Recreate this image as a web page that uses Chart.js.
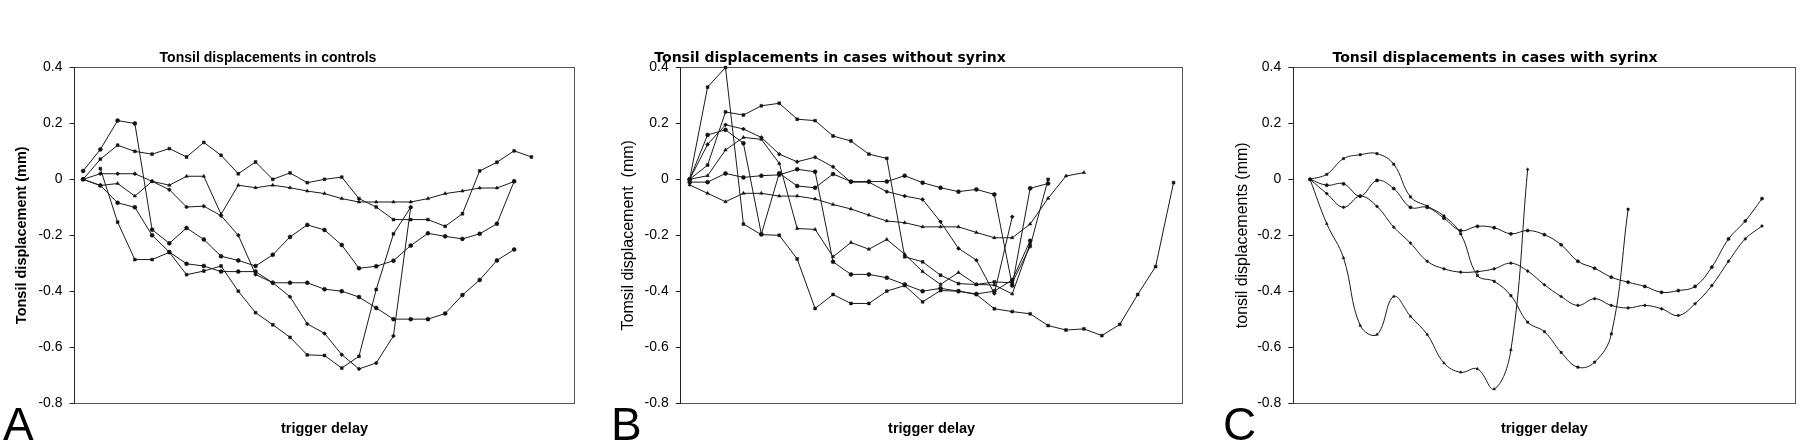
<!DOCTYPE html>
<html><head><meta charset="utf-8">
<script src="https://cdn.jsdelivr.net/npm/chart.js@4.4.1/dist/chart.umd.min.js"></script>
<style>
html,body{margin:0;padding:0;background:#fff;}
#wrap{position:relative;width:1800px;height:445px;overflow:hidden;background:#fff;}
canvas{position:absolute;top:0;}
.lbl{position:absolute;font-family:'Liberation Sans',Arial,sans-serif;font-size:46px;line-height:1;color:#000;}
</style></head><body>
<div id="wrap">
<canvas id="cA"></canvas><canvas id="cB"></canvas><canvas id="cC"></canvas>
<div class="lbl" style="left:3px;top:401px">A</div>
<div class="lbl" style="left:611px;top:401px">B</div>
<div class="lbl" style="left:1223px;top:401px">C</div>
</div>
<script>
// ---------- data ----------
const yTickValues = [-0.8, -0.6, -0.4, -0.2, 0, 0.2, 0.4];
const xAxisLabel = 'trigger delay';

// Panel A : controls (29 trigger-delay categories)
const ctrlStart = [0, 0, 0, 0, 0, 1];
const ctrl1 = [0, 0.072, 0.122, 0.100, 0.090, 0.110, 0.080, 0.132, 0.086, 0.020, 0.062, 0.0, 0.023, -0.012, 0.0, 0.008, -0.069, -0.099, -0.144, -0.144, -0.144, -0.168, -0.123, 0.030, 0.061, 0.102, 0.080];
const ctrl2 = [0.03, 0.107, 0.21, 0.20, -0.18, -0.229, -0.174, -0.215, -0.275, -0.29, -0.31, -0.27, -0.206, -0.163, -0.181, -0.235, -0.318, -0.311, -0.291, -0.237, -0.193, -0.204, -0.213, -0.195, -0.159, -0.007];
const ctrl3 = [0, 0.02, 0.02, 0.02, -0.007, -0.037, -0.099, -0.096, -0.13, -0.2, -0.34, -0.37, -0.42, -0.517, -0.551, -0.627, -0.678, -0.657, -0.56, -0.1];
const ctrl4 = [0, -0.022, -0.015, -0.06, -0.007, -0.021, 0.011, 0.011, -0.125, -0.021, -0.03, -0.021, -0.03, -0.042, -0.051, -0.069, -0.081, -0.081, -0.081, -0.081, -0.069, -0.051, -0.042, -0.031, -0.031, -0.008];
const ctrl5 = [0, -0.022, -0.084, -0.1, -0.2, -0.26, -0.302, -0.31, -0.33, -0.33, -0.33, -0.37, -0.37, -0.37, -0.393, -0.40, -0.421, -0.46, -0.5, -0.5, -0.5, -0.48, -0.414, -0.36, -0.29, -0.251];
const ctrl6 = [0.038, -0.153, -0.287, -0.287, -0.261, -0.341, -0.328, -0.31, -0.4, -0.477, -0.52, -0.565, -0.628, -0.63, -0.675, -0.633, -0.394, -0.195, -0.1];

// Panel B : cases without syrinx (28 categories)
const nosyrStart = [0, 0, 0, 0, 0, 0, 0];
const nosyr1 = [0, 0.051, 0.241, 0.230, 0.263, 0.272, 0.215, 0.210, 0.155, 0.137, 0.09, 0.075, -0.277, -0.295, -0.343, -0.373, -0.376, -0.367, -0.37, -0.24, 0.0];
const nosyr2 = [0, 0.159, 0.177, 0.129, -0.196, 0.022, -0.024, -0.03, 0.019, -0.008, -0.008, -0.008, 0.013, -0.012, -0.03, -0.044, -0.036, -0.054, -0.38, -0.032, -0.015];
const nosyr3 = [0, 0.125, 0.195, 0.18, 0.15, 0.09, 0.063, 0.079, 0.045, -0.01, -0.01, -0.044, -0.06, -0.072, -0.152, -0.247, -0.289, -0.408, -0.134];
const nosyr4 = [0, 0.013, 0.105, 0.15, 0.143, 0.057, -0.176, -0.179, -0.277, -0.226, -0.25, -0.215, -0.268, -0.33, -0.376, -0.333, -0.376, -0.378, -0.41, -0.23];
const nosyr5 = [-0.01, -0.01, 0.021, 0.007, 0.013, 0.016, 0.036, 0.027, -0.295, -0.34, -0.34, -0.352, -0.376, -0.40, -0.39, -0.40, -0.41, -0.40, -0.36, -0.22];
const nosyr6 = [0, 0.33, 0.40, -0.16, -0.198, -0.2, -0.285, -0.462, -0.412, -0.444, -0.444, -0.40, -0.38, -0.438, -0.398, -0.40, -0.412, -0.463, -0.473, -0.481, -0.523, -0.539, -0.535, -0.559, -0.519, -0.412, -0.312, -0.012];
const nosyr7 = [-0.02, -0.05, -0.08, -0.05, -0.05, -0.06, -0.06, -0.07, -0.09, -0.106, -0.128, -0.149, -0.155, -0.17, -0.17, -0.17, -0.19, -0.209, -0.209, -0.16, -0.068, 0.012, 0.024];

// Panel C : cases with syrinx (30 categories)
const syrStart = [0, 0, 0, 0];
const syr1 = [0, 0.018, 0.074, 0.088, 0.092, 0.054, -0.063, -0.096, -0.131, -0.195, -0.344, -0.365, -0.416, -0.511, -0.545, -0.619, -0.672, -0.654, -0.553, -0.107];
const syr2 = [0, -0.021, -0.016, -0.06, -0.004, -0.033, -0.1, -0.1, -0.139, -0.183, -0.168, -0.173, -0.195, -0.183, -0.198, -0.234, -0.293, -0.318, -0.35, -0.368, -0.383, -0.404, -0.398, -0.383, -0.314, -0.213, -0.149, -0.069];
const syr3 = [0, -0.051, -0.1, -0.06, -0.097, -0.171, -0.228, -0.293, -0.32, -0.332, -0.33, -0.32, -0.30, -0.328, -0.377, -0.419, -0.451, -0.427, -0.451, -0.46, -0.451, -0.463, -0.487, -0.445, -0.38, -0.293, -0.213, -0.167];
const syr4 = [0, -0.159, -0.281, -0.523, -0.555, -0.419, -0.49, -0.555, -0.657, -0.69, -0.678, -0.75, -0.61, 0.036];

// ---------- drawing ----------
const FONT = "'Liberation Sans', Arial, Helvetica, sans-serif";
const WIDE = "'DejaVu Sans', 'Liberation Sans', Arial, sans-serif";
const H = 445;
const styleCycle = ['rect', 'circle', 'rectRot', 'triangle', 'circle', 'rect', 'triangle', 'rectRot'];

function toPoints(vals, start) {
  return vals.map((v, i) => ({x: start + i, y: v}));
}

function build(id, p) {
  const tSize = p.titleSize, tlh = tSize * 1.2;
  const ySize = p.yTitleSize, ylh = ySize * 1.2;
  const xSize = 14.5, xlh = xSize * 1.2;
  const a = 2 * p.titleCx - p.R;           // left edge of title box
  const CL = Math.floor(Math.min(a, p.yTitleCx - 14));
  const padL = a - CL;
  const CW = Math.ceil(p.R + 2 - CL);
  const padR = CL + CW - p.R;
  const cv = document.getElementById(id);
  cv.width = CW; cv.height = H;
  cv.style.left = CL + 'px';
  cv.style.width = CW + 'px'; cv.style.height = H + 'px';

  const datasets = p.series.map((vals, k) => ({
    data: toPoints(vals, p.starts[k]),
    borderColor: '#1a1a1a',
    backgroundColor: '#111',
    borderWidth: 1,
    pointStyle: styleCycle[k % styleCycle.length],
    pointRadius: p.pointRadius,
    pointBorderWidth: 0.5,
    pointBorderColor: '#111',
    pointBackgroundColor: '#111',
    tension: p.tension,
    fill: false,
    clip: 4
  }));

  const dotted = {display: true, color: '#555', width: 1, dash: [1, 1]};
  return new Chart(cv, {
    type: 'line',
    data: {datasets},
    options: {
      responsive: false,
      animation: false,
      devicePixelRatio: 1,
      layout: {padding: {left: padL, right: padR, top: 0, bottom: 0}},
      plugins: {
        legend: {display: false},
        tooltip: {enabled: false},
        title: {
          display: true, text: p.title, color: '#000',
          font: {family: p.titleFont, size: tSize, weight: 'bold', lineHeight: 1.2},
          padding: {top: p.titleCy - tlh / 2, bottom: p.T - p.titleCy - tlh / 2}
        }
      },
      scales: {
        x: {
          type: 'linear', position: 'bottom', min: p.xmin, max: p.xmax,
          ticks: {display: false},
          grid: {display: false, drawTicks: false},
          border: dotted,
          title: {
            display: true, text: xAxisLabel, color: '#000',
            font: {family: FONT, size: xSize, weight: 'bold', lineHeight: 1.2},
            padding: {top: 0, bottom: H - p.xTitleCy - xlh / 2}
          },
          afterFit: s => { s.height = H - p.B; }
        },
        x2: {
          type: 'linear', position: 'top', min: p.xmin, max: p.xmax,
          ticks: {display: false},
          grid: {display: false, drawTicks: false},
          border: dotted
        },
        y: {
          type: 'linear', position: 'left', min: -0.8, max: 0.4,
          afterBuildTicks: s => { s.ticks = yTickValues.map(v => ({value: v})); },
          ticks: {
            color: '#000', padding: 7,
            font: {family: FONT, size: 14},
            callback: v => String(Math.round(v * 10) / 10)
          },
          grid: {display: true, drawOnChartArea: false, drawTicks: true, tickLength: 5, tickColor: '#222', tickWidth: 1},
          border: {display: true, color: '#222', width: 1},
          title: {
            display: true, text: p.yTitle, color: '#000',
            font: {family: FONT, size: ySize, weight: p.yTitleBold ? 'bold' : 'normal', lineHeight: 1.2},
            padding: {top: p.yTitleCx - a - ylh / 2, bottom: 0}
          },
          afterFit: s => { s.width = p.L - a; }
        },
        y2: {
          type: 'linear', position: 'right', min: -0.8, max: 0.4,
          ticks: {display: false},
          grid: {display: false, drawTicks: false},
          border: dotted
        }
      }
    }
  });
}

build('cA', {
  L: 74.5, R: 577, T: 67.5, B: 403, titleCx: 268, titleCy: 58, yTitleCx: 22, xTitleCy: 429,
  xmin: -0.5, xmax: 28.5, title: 'Tonsil displacements in controls', titleSize: 14, titleFont: FONT,
  yTitle: 'Tonsil displacement (mm)', yTitleBold: true, yTitleSize: 14.5,
  series: [ctrl1, ctrl2, ctrl3, ctrl4, ctrl5, ctrl6], starts: ctrlStart,
  tension: 0, pointRadius: 2
});
build('cB', {
  L: 680.7, R: 1185, T: 67.5, B: 403, titleCx: 830, titleCy: 58, yTitleCx: 628.5, xTitleCy: 429,
  xmin: -0.5, xmax: 27.5, title: 'Tonsil displacements in cases without syrinx', titleSize: 14, titleFont: WIDE,
  yTitle: 'Tomsil displacement  (mm)', yTitleBold: false, yTitleSize: 16,
  series: [nosyr1, nosyr2, nosyr3, nosyr4, nosyr5, nosyr6, nosyr7], starts: nosyrStart,
  tension: 0, pointRadius: 2
});
build('cC', {
  L: 1293.3, R: 1798, T: 67.5, B: 403, titleCx: 1495, titleCy: 58, yTitleCx: 1243, xTitleCy: 429,
  xmin: -1, xmax: 29, title: 'Tonsil displacements in cases with syrinx', titleSize: 14, titleFont: WIDE,
  yTitle: 'tonsil displacements (mm)', yTitleBold: false, yTitleSize: 16,
  series: [syr1, syr2, syr3, syr4], starts: syrStart,
  tension: 0.4, pointRadius: 1.6
});
</script>
</body></html>
